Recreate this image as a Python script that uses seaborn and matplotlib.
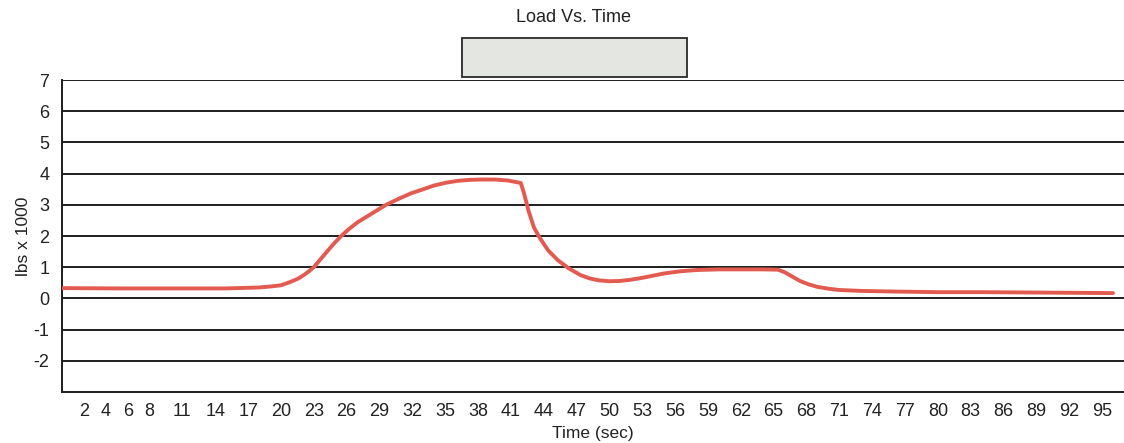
import matplotlib
matplotlib.use("Agg")
import matplotlib.pyplot as plt
from matplotlib.patches import Rectangle
import seaborn as sns
import pandas as pd

time_sec = [0, 5, 10, 15, 18, 19, 20, 20.8, 21.6, 22.3, 23, 23.6, 24.3, 24.9, 25.5,
            26.2, 27, 28.3, 29.6, 30.8, 31.9, 33, 34, 35.1, 36.2, 37.3, 38.3, 39.5,
            40.7, 41.9, 42.2, 42.6, 43.1, 43.6, 44.4, 45.3, 46.3, 47.4, 48.2, 49,
            50, 51, 52, 53, 54, 55, 56.5, 58, 60, 62, 64, 65.4, 66, 66.7, 67.4,
            68.2, 69, 70, 71, 73, 76, 80, 84, 88, 92, 96]
load_k = [0.33, 0.32, 0.32, 0.32, 0.35, 0.38, 0.42, 0.52, 0.64, 0.8, 1.0, 1.25, 1.54,
          1.78, 2.0, 2.22, 2.44, 2.72, 3.0, 3.2, 3.37, 3.5, 3.62, 3.71, 3.77, 3.8,
          3.81, 3.81, 3.78, 3.7, 3.37, 2.82, 2.28, 1.96, 1.54, 1.22, 0.96, 0.74,
          0.64, 0.58, 0.55, 0.56, 0.6, 0.66, 0.73, 0.8, 0.87, 0.91, 0.93, 0.93,
          0.93, 0.92, 0.84, 0.7, 0.56, 0.45, 0.37, 0.31, 0.27, 0.24, 0.22, 0.2,
          0.2, 0.19, 0.18, 0.17]
x_ticks = [2, 4, 6, 8] + list(range(11, 96, 3))
y_ticks = [-2, -1, 0, 1, 2, 3, 4, 5, 6, 7]

df = pd.DataFrame({"Time (sec)": time_sec, "lbs x 1000": load_k})

sns.set_style("white")
plt.rcParams['font.family'] = ['Liberation Sans', 'DejaVu Sans']

fig = plt.figure(figsize=(11.24, 4.43), dpi=100)
ax = fig.add_axes([62/1124, 1-392/443, 1-62/1124, (392-80)/443])

for yv in y_ticks:
    ax.axhline(yv, color='#1e1e1e', lw=1.4, zorder=1)

sns.lineplot(data=df, x="Time (sec)", y="lbs x 1000", ax=ax, color='#e35a50',
             lw=2.8, zorder=3)

ax.set_xlim(0, 97)
ax.set_ylim(-3, 7)
ax.set_xticks(x_ticks)
ax.set_xticklabels([str(v) for v in x_ticks])
ax.set_yticks(y_ticks)
ax.set_yticklabels([str(v) for v in y_ticks])
ax.tick_params(axis='both', length=0, labelsize=13, colors='#222222')
ax.tick_params(axis='x', pad=8)
ax.tick_params(axis='y', pad=9)
ax.set_xlabel("Time (sec)", fontsize=12.5, color='#222222', labelpad=4)
ax.set_ylabel("lbs x 1000", fontsize=12.5, color='#222222', labelpad=2)

for s in ['top', 'right']:
    ax.spines[s].set_visible(False)
for s in ['left', 'bottom']:
    ax.spines[s].set_color('#1e1e1e')
    ax.spines[s].set_linewidth(1.4)

fig.text(574/1124, 1-18/443, "Load Vs. Time", ha='center', va='center',
         fontsize=13, color='#222222')
fig.patches.append(Rectangle((462/1124, 1-77/443), (687-462)/1124, (77-38)/443,
                             transform=fig.transFigure, facecolor='#e4e6e2',
                             edgecolor='#2a2a2a', lw=1.3))

fig.savefig("out.png", dpi=100)
